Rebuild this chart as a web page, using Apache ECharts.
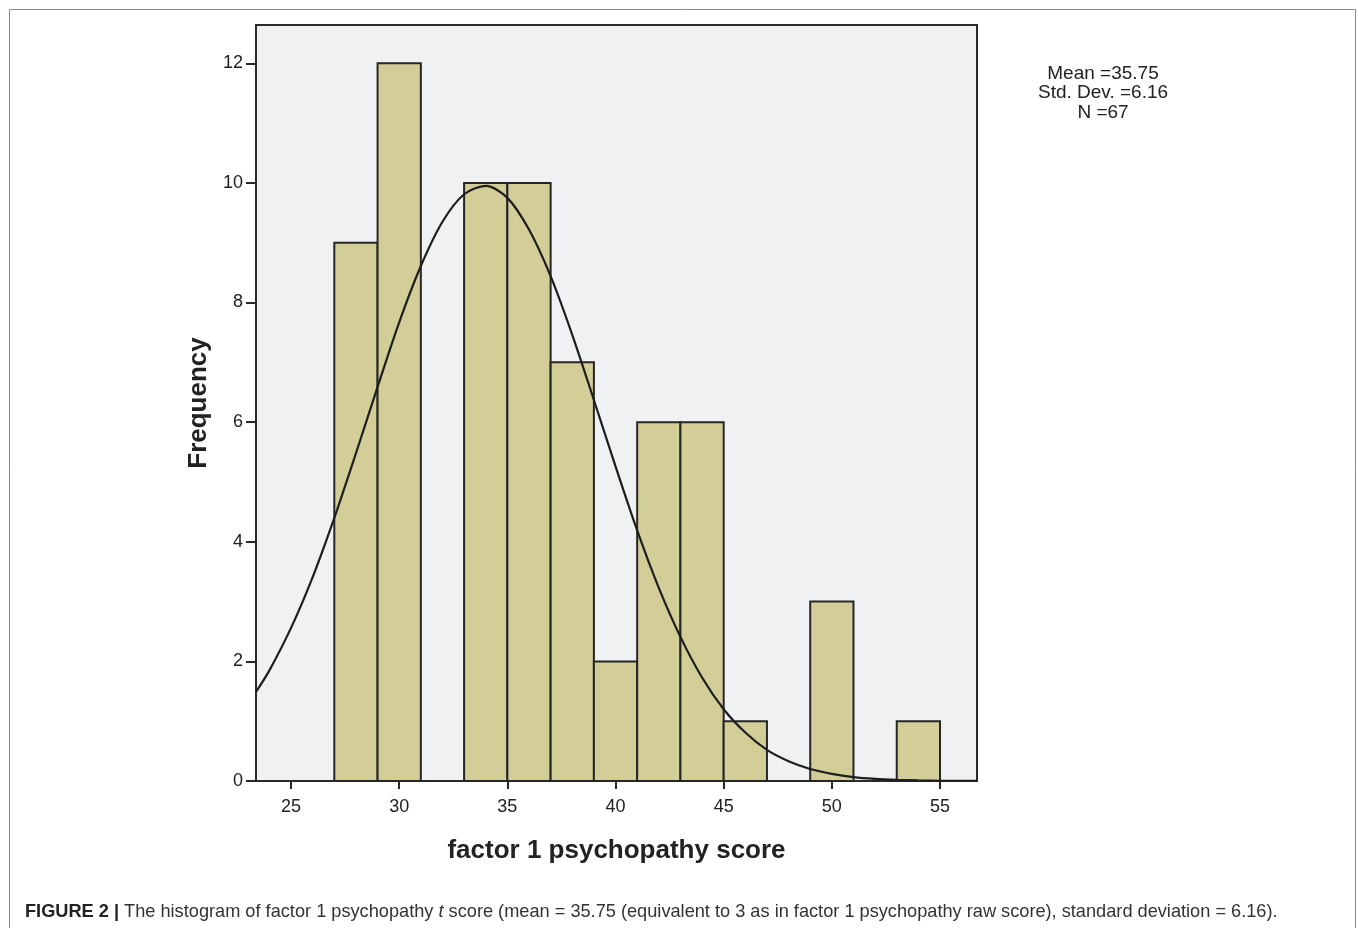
<!DOCTYPE html>
<html>
<head>
<meta charset="utf-8">
<script src="https://cdn.jsdelivr.net/npm/echarts@6/dist/echarts.min.js"></script>
<style>
html,body{margin:0;padding:0;background:#fff;}
#c{width:1358px;height:928px;}
</style>
</head>
<body>
<div id="c"></div>
<script>
// Histogram bins (factor 1 psychopathy score), bin width 2
var binStarts = [27, 29, 33, 35, 37, 39, 41, 43, 45, 49, 53];
var binWidth = 2;
var frequencies = [9, 12, 10, 10, 7, 2, 6, 6, 1, 3, 1];

// Normal curve
var curveX = [23.38, 24, 25, 26, 27, 28, 29, 30, 31, 32, 33, 34, 35, 36, 37, 38, 39, 40, 41, 42, 43, 44, 45, 46, 47, 48, 49, 50, 51, 52, 53, 54, 55, 56.7];
var curveY = [1.49, 1.85, 2.56, 3.41, 4.40, 5.48, 6.59, 7.67, 8.61, 9.35, 9.81, 9.95, 9.75, 9.22, 8.44, 7.46, 6.37, 5.26, 4.19, 3.23, 2.41, 1.73, 1.20, 0.81, 0.52, 0.33, 0.20, 0.12, 0.066, 0.036, 0.019, 0.009, 0.004, 0.001];

var xTicks = [25, 30, 35, 40, 45, 50, 55];
var yTicks = [0, 2, 4, 6, 8, 10, 12];
var xRange = [23.38, 56.71];
var yRange = [0, 12.64];

var statsLines = ['Mean =35.75', 'Std. Dev. =6.16', 'N =67'];

var chart = echarts.init(document.getElementById('c'), null, {renderer: 'canvas'});

var barData = binStarts.map(function (s, i) { return [s, frequencies[i]]; });
var curveData = curveX.map(function (x, i) { return [x, curveY[i]]; });

var font = '"Liberation Sans", Arial, sans-serif';

chart.setOption({
  animation: false,
  backgroundColor: '#ffffff',
  grid: {
    left: 256, top: 25, width: 721, height: 756,
    show: true, backgroundColor: '#f0f1f3', borderColor: '#2a2a2a', borderWidth: 2
  },
  xAxis: {
    type: 'value', min: xRange[0], max: xRange[1],
    name: 'factor 1 psychopathy score', nameLocation: 'middle', nameGap: 57,
    nameTextStyle: {fontFamily: font, fontWeight: 'bold', fontSize: 26, color: '#222'},
    axisLine: {show: true, onZero: false, lineStyle: {color: '#2a2a2a', width: 2}},
    axisTick: {show: true, customValues: xTicks, length: 8, lineStyle: {color: '#2a2a2a', width: 2}},
    axisLabel: {customValues: xTicks, fontFamily: font, fontSize: 18, color: '#222', margin: 17},
    splitLine: {show: false}
  },
  yAxis: {
    type: 'value', min: yRange[0], max: yRange[1],
    name: 'Frequency', nameLocation: 'middle', nameGap: 44,
    nameTextStyle: {fontFamily: font, fontWeight: 'bold', fontSize: 26, color: '#222'},
    axisLine: {show: true, onZero: false, lineStyle: {color: '#2a2a2a', width: 2}},
    axisTick: {show: true, customValues: yTicks, length: 10, lineStyle: {color: '#2a2a2a', width: 2}},
    axisLabel: {customValues: yTicks, fontFamily: font, fontSize: 18, color: '#222', margin: 13},
    splitLine: {show: false}
  },
  series: [
    {
      type: 'custom',
      data: barData,
      z: 2,
      renderItem: function (params, api) {
        var x0 = api.value(0);
        var y = api.value(1);
        var p0 = api.coord([x0, 0]);
        var p1 = api.coord([x0 + binWidth, y]);
        return {
          type: 'rect',
          shape: {x: p0[0], y: p1[1], width: p1[0] - p0[0], height: p0[1] - p1[1]},
          style: {fill: '#d3cd98', stroke: '#262626', lineWidth: 2}
        };
      }
    },
    {
      type: 'line',
      data: curveData,
      smooth: 0.3,
      showSymbol: false,
      symbol: 'none',
      z: 3,
      lineStyle: {color: '#1e1e1e', width: 2.2}
    }
  ],
  graphic: [
    {
      type: 'rect', x: 9.5, y: 9.5, z: -10,
      shape: {x: 0, y: 0, width: 1346, height: 940},
      style: {fill: 'none', stroke: '#8a8a8a', lineWidth: 1}
    },
    {
      type: 'text', x: 1103, y: 64,
      style: {
        text: statsLines.join('\n'), font: '19px ' + font, fill: '#222',
        textAlign: 'center', textVerticalAlign: 'top', lineHeight: 19.5
      }
    },
    {
      type: 'text', x: 25, y: 912,
      style: {
        text: '{b|FIGURE 2 |} The histogram of factor 1 psychopathy {i|t} score (mean = 35.75 (equivalent to 3 as in factor 1 psychopathy raw score), standard deviation = 6.16).',
        font: '18.2px ' + font, fill: '#333', textVerticalAlign: 'middle',
        rich: {
          b: {fontWeight: 'bold', fontSize: 18.2, fontFamily: font, fill: '#222'},
          i: {fontStyle: 'italic', fontSize: 18.2, fontFamily: font, fill: '#333'}
        }
      }
    }
  ]
});
</script>
</body>
</html>
